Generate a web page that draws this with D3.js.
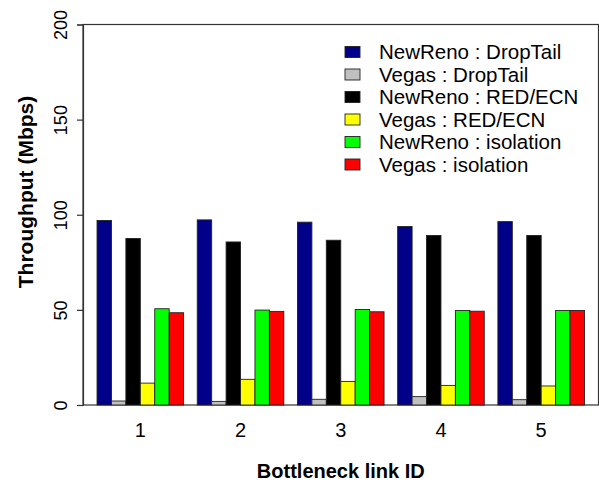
<!DOCTYPE html>
<html>
<head>
<meta charset="utf-8">
<script src="https://cdn.jsdelivr.net/npm/d3@7"></script>
<style>
  body { margin: 0; background: #fff; }
  svg text { font-family: Arial, "Liberation Sans", sans-serif; fill: #000; }
</style>
</head>
<body>
<svg id="chart" width="599" height="483"></svg>
<script>
var links = ["1", "2", "3", "4", "5"];
var series = ["NewReno : DropTail", "Vegas : DropTail", "NewReno : RED/ECN",
              "Vegas : RED/ECN", "NewReno : isolation", "Vegas : isolation"];
var newrenoDropTail = [97.0, 97.3, 96.1, 93.8, 96.4];
var vegasDropTail   = [2.1, 1.9, 3.0, 4.4, 2.8];
var newrenoRed      = [87.5, 85.7, 86.6, 89.1, 89.1];
var vegasRed        = [11.5, 13.5, 12.4, 10.3, 10.0];
var newrenoIso      = [50.6, 49.9, 50.2, 49.7, 49.7];
var vegasIso        = [48.5, 49.2, 49.0, 49.3, 49.7];
var yTicks = [0, 50, 100, 150, 200];

var colors = ["#000088", "#c0c0c0", "#000000", "#ffff00", "#00ff00", "#ff0000"];
var values = [newrenoDropTail, vegasDropTail, newrenoRed, vegasRed, newrenoIso, vegasIso];

var data = links.map(function(l, i) {
  return { link: l, vals: values.map(function(s) { return s[i]; }) };
});

var svg = d3.select("#chart"),
    margin = {top: 24.5, right: 0.5, bottom: 78, left: 83},
    width = 599 - margin.left - margin.right,
    height = 483 - margin.top - margin.bottom;

var g = svg.append("g")
    .attr("transform", "translate(" + margin.left + "," + margin.top + ")");

var x0 = d3.scaleBand().domain(links).range([0, width])
    .paddingInner(0.136).paddingOuter(0.14);
var x1 = d3.scaleBand().domain(d3.range(series.length)).range([0, x0.bandwidth()]);
var y = d3.scaleLinear().domain([0, 200]).range([height, 0]);

// frame
g.append("rect")
    .attr("x", 0).attr("y", 0)
    .attr("width", width).attr("height", height)
    .attr("fill", "none")
    .attr("stroke", "#333")
    .attr("stroke-width", 1.2);

// bars
var groups = g.selectAll(".grp")
  .data(data)
  .enter().append("g")
    .attr("class", "grp")
    .attr("transform", function(d) { return "translate(" + x0(d.link) + ",0)"; });

groups.selectAll("rect")
  .data(function(d) { return d.vals; })
  .enter().append("rect")
    .attr("x", function(d, i) { return x1(i); })
    .attr("y", function(d) { return y(d); })
    .attr("width", x1.bandwidth())
    .attr("height", function(d) { return height - y(d); })
    .attr("fill", function(d, i) { return colors[i]; })
    .attr("stroke", "#222")
    .attr("stroke-width", 0.9);

// y axis
var yAxis = g.append("g")
    .call(d3.axisLeft(y).tickValues(yTicks).tickSize(6).tickFormat(d3.format("d")));
yAxis.select(".domain").attr("stroke", "#333").attr("stroke-width", 1.2);
yAxis.selectAll(".tick line").attr("stroke", "#333").attr("stroke-width", 1.2);
yAxis.selectAll(".tick text")
    .attr("font-size", 18)
    .attr("x", 0).attr("dy", null)
    .attr("text-anchor", "middle")
    .attr("transform", "translate(-16,0) rotate(-90)")
    .style("font-family", "Arial, 'Liberation Sans', sans-serif");

// x axis labels (no tick marks)
var xAxis = g.append("g")
    .attr("transform", "translate(0," + height + ")")
    .call(d3.axisBottom(x0).tickSize(0).tickPadding(18));
xAxis.select(".domain").remove();
xAxis.selectAll(".tick text")
    .attr("font-size", 20)
    .style("font-family", "Arial, 'Liberation Sans', sans-serif");

// axis titles
svg.append("text")
    .attr("transform", "translate(33,192) rotate(-90)")
    .attr("text-anchor", "middle")
    .attr("font-size", 21)
    .attr("font-weight", "bold")
    .text("Throughput (Mbps)");

svg.append("text")
    .attr("x", margin.left + width / 2)
    .attr("y", 478)
    .attr("text-anchor", "middle")
    .attr("font-size", 20)
    .attr("font-weight", "bold")
    .text("Bottleneck link ID");

// legend
var legend = svg.append("g").attr("transform", "translate(345,52)");
var item = legend.selectAll(".leg")
  .data(series)
  .enter().append("g")
    .attr("class", "leg")
    .attr("transform", function(d, i) { return "translate(0," + (i * 22.5) + ")"; });
item.append("rect")
    .attr("x", 0).attr("y", -5.5)
    .attr("width", 15).attr("height", 11)
    .attr("fill", function(d, i) { return colors[i]; })
    .attr("stroke", "#222")
    .attr("stroke-width", 0.9);
item.append("text")
    .attr("x", 34).attr("y", 0)
    .attr("dy", "0.35em")
    .attr("font-size", 20.5)
    .text(function(d) { return d; });
</script>
</body>
</html>
